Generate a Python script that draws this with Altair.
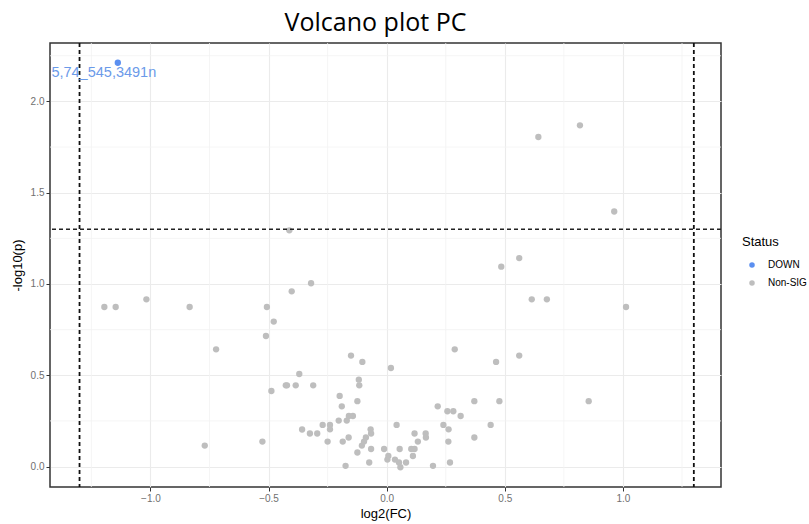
import altair as alt
import pandas as pd

# Non-significant points (log2 FC, -log10 p)
nonsig_x = [-1.195, -1.147, -1.017, -0.834, -0.722, -0.770, -0.507, -0.478, -0.511, -0.526,
            -0.402, -0.320, -0.488, -0.427, -0.422, -0.385, -0.370, -0.311, -0.358, -0.325,
            -0.294, -0.271, -0.240, -0.240, -0.250, -0.203, -0.199, -0.190, -0.186, -0.174,
            -0.169, -0.160, -0.143, -0.161, -0.151, -0.124, -0.124, -0.118, -0.116, -0.103,
            -0.105, -0.096, -0.088, -0.068, -0.066, -0.066, -0.074, -0.011, 0.007, 0.003,
            0.018, 0.035, 0.042, 0.055, 0.052, 0.058, 0.082, 0.118, 0.132, 0.104,
            0.118, 0.111, 0.165, 0.166, 0.196, 0.216, 0.240, 0.257, 0.282, 0.262,
            0.261, 0.268, 0.288, 0.313, 0.371, 0.371, 0.440, 0.463, 0.477, 0.485,
            0.561, 0.561, 0.614, 0.678, 0.855, 1.013, 0.642, 0.818, 0.963, -0.412]
nonsig_y = [0.874, 0.874, 0.916, 0.874, 0.642, 0.115, 0.874, 0.794, 0.715, 0.137,
            0.960, 1.004, 0.414, 0.445, 0.445, 0.445, 0.507, 0.445, 0.203, 0.181,
            0.181, 0.228, 0.228, 0.204, 0.137, 0.252, 0.387, 0.330, 0.137, 0.004,
            0.252, 0.277, 0.277, 0.159, 0.608, 0.077, 0.358, 0.476, 0.445, 0.573,
            0.115, 0.137, 0.159, 0.204, 0.181, 0.096, 0.022, 0.096, 0.058, 0.038,
            0.540, 0.038, 0.228, 0.096, 0.022, -0.004, 0.022, 0.181, 0.137, 0.096,
            0.096, 0.058, 0.181, 0.159, 0.004, 0.330, 0.228, 0.303, 0.303, 0.204,
            0.137, 0.022, 0.642, 0.277, 0.358, 0.159, 0.228, 0.573, 0.358, 1.095,
            0.608, 1.142, 0.916, 0.916, 0.358, 0.874, 1.805, 1.869, 1.397, 1.294]

# Down-regulated point
down_x = [-1.138]
down_y = [2.212]
down_label = ["5,74_545,3491n"]

status_levels = ["DOWN", "Non-SIG"]
status_colors = ["#5b8ff0", "#bebebe"]

fc_cut = [-1.3, 1.3]
p_cut = [1.3]

x_major = [-1.0, -0.5, 0.0, 0.5, 1.0]
y_major = [0.0, 0.5, 1.0, 1.5, 2.0]
x_minor = [-1.25, -0.75, -0.25, 0.25, 0.75, 1.25]
y_minor = [0.25, 0.75, 1.25, 1.75, 2.25]

pts = pd.DataFrame({
    "fc": down_x + nonsig_x,
    "p": down_y + nonsig_y,
    "Status": ["DOWN"] * len(down_x) + ["Non-SIG"] * len(nonsig_x),
})
lab = pd.DataFrame({"fc": down_x, "p": down_y, "label": down_label})

xs = alt.Scale(domain=[-1.425, 1.415], nice=False, zero=False)
ys = alt.Scale(domain=[-0.112, 2.32], nice=False, zero=False)

FONT = "Liberation Sans"

xaxis = alt.Axis(values=x_major, format=".1f", title="log2(FC)", grid=True,
                 gridColor="#ebebeb", gridWidth=1.1, domain=False,
                 tickColor="#333333", tickSize=4, labelFontSize=10, labelColor="#707070",
                 labelFont=FONT, labelPadding=2, titleFont=FONT, titleFontSize=13,
                 titleFontWeight="normal", titleColor="#000000", titlePadding=4)
yaxis = alt.Axis(values=y_major, format=".1f", title="-log10(p)", grid=True,
                 gridColor="#ebebeb", gridWidth=1.1, domain=False,
                 tickColor="#333333", tickSize=4, labelFontSize=10, labelColor="#707070",
                 labelFont=FONT, labelPadding=2, titleFont=FONT, titleFontSize=13,
                 titleFontWeight="normal", titleColor="#000000", titlePadding=6)

minor_xg = alt.Chart(pd.DataFrame({"v": x_minor})).mark_rule(
    color="#f2f2f2", strokeWidth=0.8).encode(x=alt.X("v:Q", scale=xs, axis=xaxis))
minor_yg = alt.Chart(pd.DataFrame({"v": y_minor})).mark_rule(
    color="#f2f2f2", strokeWidth=0.8).encode(y=alt.Y("v:Q", scale=ys, axis=yaxis))

points = alt.Chart(pts).mark_circle(size=40, opacity=1).encode(
    x=alt.X("fc:Q", scale=xs, axis=xaxis),
    y=alt.Y("p:Q", scale=ys, axis=yaxis),
    color=alt.Color("Status:N",
                    scale=alt.Scale(domain=status_levels, range=status_colors),
                    legend=alt.Legend(title="Status", orient="none", legendX=692, legendY=193,
                                      titleFont=FONT, titleFontSize=13, titleFontWeight="normal",
                                      titleColor="#000000", titlePadding=11,
                                      labelFont=FONT, labelFontSize=10, labelColor="#000000",
                                      symbolType="circle", symbolSize=30, symbolOffset=5,
                                      labelOffset=11, rowPadding=8)),
)

vlines = alt.Chart(pd.DataFrame({"v": fc_cut})).mark_rule(
    color="#111111", strokeWidth=1.8, strokeDash=[4, 3]).encode(x=alt.X("v:Q", scale=xs))
hline = alt.Chart(pd.DataFrame({"v": p_cut})).mark_rule(
    color="#222222", strokeWidth=1.6, strokeDash=[4, 3]).encode(y=alt.Y("v:Q", scale=ys))

text = alt.Chart(lab).mark_text(
    align="center", baseline="middle", dx=-14, dy=10.5, fontSize=14.5, font=FONT,
    color="#6b9ae9").encode(
    x=alt.X("fc:Q", scale=xs), y=alt.Y("p:Q", scale=ys), text="label:N")

chart = alt.layer(minor_xg, minor_yg, points, vlines, hline, text).properties(
    width=671, height=444,
    background="white",
    autosize=alt.AutoSizeParams(type="none"),
    padding={"left": 50, "top": 43, "right": 88, "bottom": 37},
    title=alt.Title("Volcano plot PC", font="Open Sans", fontSize=25, fontWeight="normal",
                    color="#000000", anchor="middle", baseline="alphabetic", offset=13,
                    dx=-10, dy=27),
).configure_view(stroke="#333333", strokeWidth=1.5)

chart.save("out.html", embed_options={"renderer": "svg", "actions": False})
